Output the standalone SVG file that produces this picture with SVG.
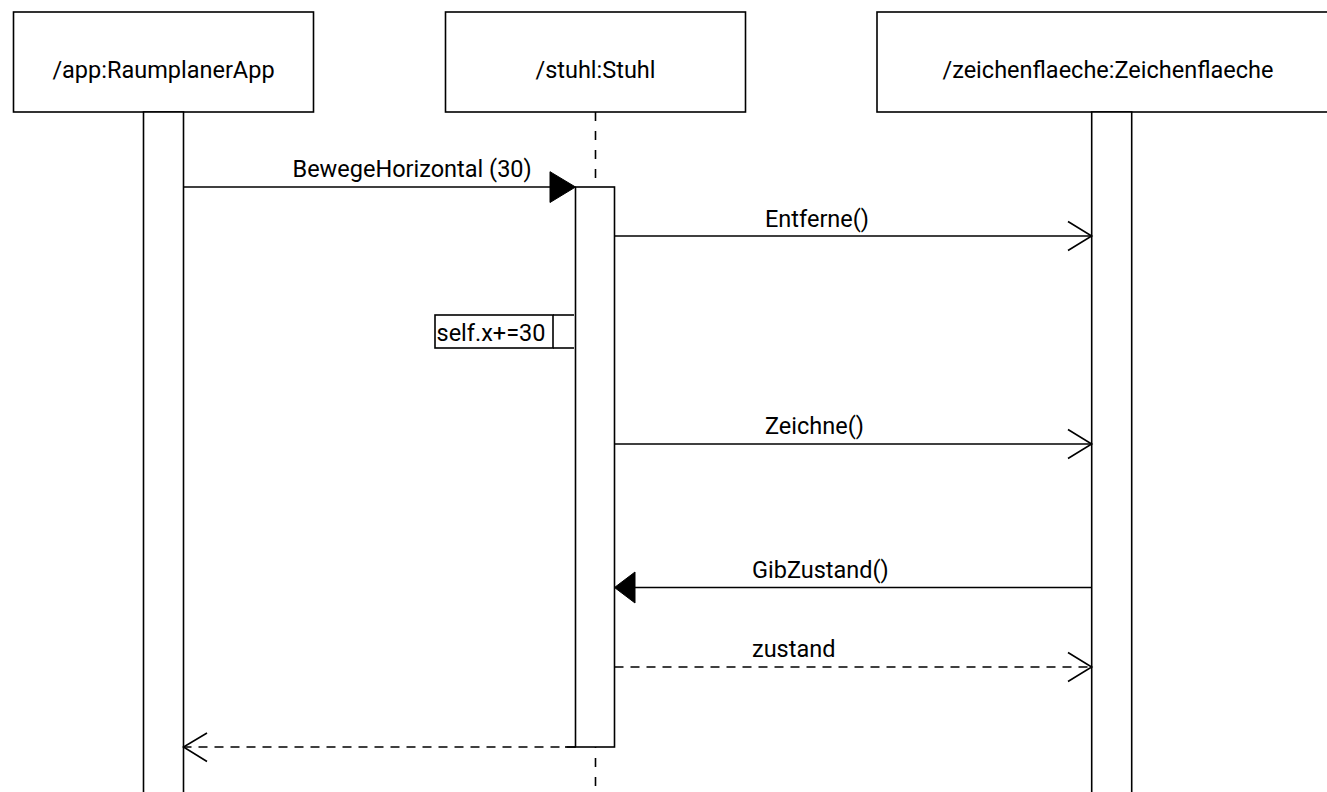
<svg xmlns="http://www.w3.org/2000/svg" width="1327" height="792" viewBox="0 0 1327 792">
<style>
.box{fill:#fff;stroke:#000;stroke-width:1.6}
.act{fill:#fff;stroke:#000;stroke-width:1.6}
.life{fill:none;stroke:#000;stroke-width:1.6;stroke-dasharray:9 10}
.msg{fill:none;stroke:#000;stroke-width:1.6}
.ret{fill:none;stroke:#000;stroke-width:1.6;stroke-dasharray:9 7}
.open{fill:none;stroke:#000;stroke-width:1.6}
.fill{fill:#000;stroke:#000;stroke-width:1}
text{font-family:Roboto,"Liberation Sans",sans-serif;font-size:23.5px;fill:#000}
.hdr{text-anchor:middle}
</style>
<rect width="1327" height="792" fill="#fff"/>
<g id="app">
<rect class="box" x="13.5" y="12" width="300" height="100"/>
<text class="hdr" x="163.5" y="78">/app:RaumplanerApp</text>
<rect class="act" x="143.5" y="112" width="40" height="690"/>
</g>
<g id="stuhl">
<rect class="box" x="445.5" y="12" width="300" height="100"/>
<text class="hdr" x="595.5" y="78">/stuhl:Stuhl</text>
<line class="life" x1="595.5" y1="112" x2="595.5" y2="792"/>
<rect class="act" x="575.5" y="187" width="39" height="560"/>
</g>
<g id="zeichenflaeche">
<rect class="box" x="877" y="12" width="470" height="100"/>
<text class="hdr" x="1108" y="78">/zeichenflaeche:Zeichenflaeche</text>
<rect class="act" x="1091.7" y="112" width="40" height="690"/>
</g>
<g id="selfx">
<rect class="box" x="435" y="315" width="118" height="33"/>
<line class="msg" x1="553" y1="315" x2="574" y2="315"/>
<line class="msg" x1="553" y1="348" x2="574" y2="348"/>
<text x="436.5" y="341">self.x+=30</text>
</g>
<g id="connectors">
<line class="msg" x1="183.5" y1="187" x2="552" y2="187"/>
<polygon class="fill" points="575.5,187 550,171.7 550,202.5"/>
<text x="292.5" y="177">BewegeHorizontal (30)</text>

<line class="msg" x1="614.5" y1="236" x2="1091.7" y2="236"/>
<polyline class="open" points="1068,221.5 1091.7,236 1068,250.5"/>
<text x="765" y="227">Entferne()</text>

<line class="msg" x1="614.5" y1="444" x2="1091.7" y2="444"/>
<polyline class="open" points="1068,429.5 1091.7,444 1068,458.5"/>
<text x="765" y="434">Zeichne()</text>

<line class="msg" x1="633" y1="587.5" x2="1091.7" y2="587.5"/>
<polygon class="fill" points="614.5,587.5 635,572 635,603"/>
<text x="752" y="578">GibZustand()</text>

<line class="ret" x1="614.5" y1="667" x2="1091.7" y2="667"/>
<polyline class="open" points="1068,652.5 1091.7,667 1068,681.5"/>
<text x="752" y="657">zustand</text>

<line class="ret" x1="575.5" y1="747" x2="183.5" y2="747"/>
<line class="msg" x1="565" y1="747" x2="575.5" y2="747"/>
<polyline class="open" points="207,733 183.5,747 207,761.5"/>
</g>
</svg>
